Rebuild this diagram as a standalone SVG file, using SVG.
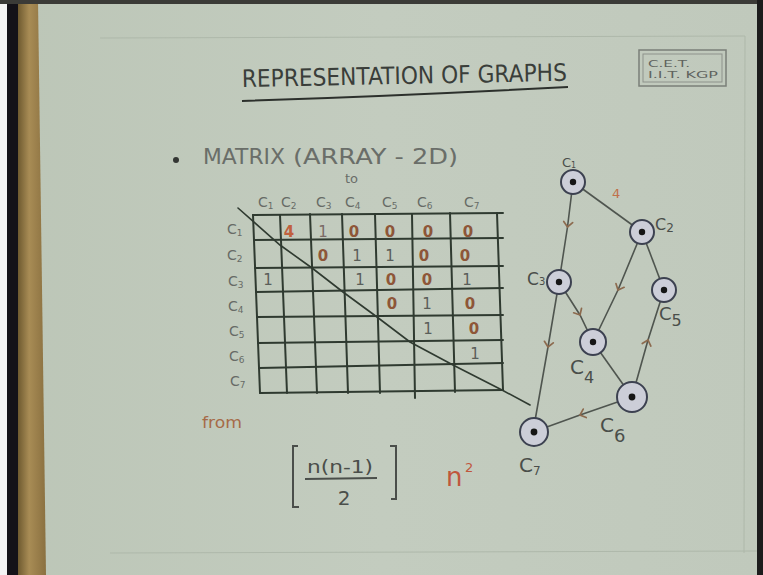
<svg xmlns="http://www.w3.org/2000/svg" width="763" height="575" viewBox="0 0 763 575">
  <defs>
    <linearGradient id="paper" x1="0" y1="0" x2="1" y2="0">
      <stop offset="0" stop-color="#bcc6b7"/>
      <stop offset="0.5" stop-color="#c3ccbf"/>
      <stop offset="1" stop-color="#c0c9bc"/>
    </linearGradient>
    <linearGradient id="wood" x1="0" y1="0" x2="1" y2="0">
      <stop offset="0" stop-color="#6e5a30"/>
      <stop offset="0.4" stop-color="#a88c55"/>
      <stop offset="1" stop-color="#8a7040"/>
    </linearGradient>
    <marker id="chev" markerUnits="userSpaceOnUse" markerWidth="14" markerHeight="14" viewBox="-7 -7 14 14" refX="0" refY="0" orient="auto">
      <path d="M-5,-4.5 L0,0 L-5,4.5" fill="none" stroke="#8c6a4e" stroke-width="1.7" stroke-linecap="round"/>
    </marker>
    <style>
      .hand { font-family: "DejaVu Sans", "Liberation Sans", sans-serif; }
      .grid { stroke: #2f3a30; stroke-width: 2; fill: none; stroke-linecap: round; }
      .hdr { font-family: "DejaVu Sans", sans-serif; font-size: 14px; fill: #676b66; }
      .sub { font-size: 9px; }
      .one { font-family: "DejaVu Sans", sans-serif; font-size: 15px; fill: #5a5e5a; text-anchor: middle; }
      .zero { font-family: "DejaVu Sans", sans-serif; font-size: 15px; font-weight: bold; fill: #8e5638; text-anchor: middle; }
      .edge { stroke: #4f554f; stroke-width: 1.6; fill: none; marker-mid: url(#chev); }
      .edgen { stroke: #4f554f; stroke-width: 1.6; fill: none; }
      .ring { fill: #ccced8; stroke: #3c4150; stroke-width: 2; }
      .dot { fill: #161616; }
      .glab { font-family: "DejaVu Sans", sans-serif; fill: #4a4e4a; }
    </style>
  </defs>

  <!-- background: photo frame -->
  <rect x="0" y="0" width="763" height="575" fill="url(#paper)"/>
  <rect x="0" y="0" width="7" height="575" fill="#f4f4f4"/>
  <rect x="7" y="0" width="12" height="575" fill="#141218"/>
  <polygon points="18,0 38,0 46,575 18,575" fill="url(#wood)"/>
  <rect x="0" y="0" width="763" height="4" fill="#3b3b37"/>
  <rect x="757" y="0" width="6" height="575" fill="#1c1c1c"/>
  <g stroke="#aeb8aa" stroke-width="1" fill="none">
    <path d="M100,38 L745,36"/>
    <path d="M745,36 L744,553"/>
    <path d="M110,553 L757,551"/>
  </g>

  <!-- title -->
  <g id="title">
    <text class="hand" x="242" y="87" font-size="24" fill="#3a3e3a" textLength="325" lengthAdjust="spacingAndGlyphs" transform="rotate(-1.1 242 87)">REPRESENTATION OF GRAPHS</text>
    <path d="M242,101 Q400,96 568,87" stroke="#2c302c" stroke-width="2" fill="none"/>
  </g>

  <!-- logo box -->
  <g id="logo">
    <rect x="639" y="50" width="87" height="36" fill="none" stroke="#7a7f78" stroke-width="1.5"/>
    <rect x="643" y="54" width="79" height="28" fill="none" stroke="#8d928b" stroke-width="1"/>
    <text class="hand" x="648" y="67" font-size="9" fill="#5f635e" textLength="42" lengthAdjust="spacingAndGlyphs">C.E.T.</text>
    <text class="hand" x="648" y="78" font-size="9" fill="#5f635e" textLength="70" lengthAdjust="spacingAndGlyphs">I.I.T. KGP</text>
  </g>

  <!-- heading -->
  <g id="heading">
    <circle cx="176" cy="160" r="3" fill="#333633"/>
    <text class="hand" x="203" y="164" font-size="22" fill="#6a6e69" textLength="82" lengthAdjust="spacingAndGlyphs">MATRIX</text>
    <text class="hand" x="293" y="164" font-size="22" fill="#6a6e69" textLength="165" lengthAdjust="spacingAndGlyphs">(ARRAY - 2D)</text>
    <text class="hand" x="345" y="183" font-size="13" fill="#6a6e69">to</text>
  </g>

  <!-- matrix -->
  <g id="matrix">
    <g class="grid">
      <path d="M253,215 L503,213"/>
      <path d="M254,240 L503,238"/>
      <path d="M255,268 L503,266"/>
      <path d="M256,292 L503,288"/>
      <path d="M257,317 L503,315"/>
      <path d="M258,343 L503,340"/>
      <path d="M259,368 L503,363"/>
      <path d="M260,393 L503,390"/>
      <path d="M253,215 L260,393"/>
      <path d="M280,215 L287,393"/>
      <path d="M310,214 L317,393"/>
      <path d="M342,214 L348,393"/>
      <path d="M375,214 L380,393"/>
      <path d="M412,214 L415,398"/>
      <path d="M450,213 L455,392"/>
      <path d="M497,213 L503,390"/>
      <path d="M238,208 L280,245 L312,268 L343,292 L377,317 L410,342 L453,365 L502,390 L530,405" stroke-width="1.6"/>
    </g>
    <!-- column headers -->
    <text class="hdr" x="258" y="207">C<tspan class="sub" dy="2">1</tspan></text>
    <text class="hdr" x="281" y="207">C<tspan class="sub" dy="2">2</tspan></text>
    <text class="hdr" x="316" y="207">C<tspan class="sub" dy="2">3</tspan></text>
    <text class="hdr" x="345" y="207">C<tspan class="sub" dy="2">4</tspan></text>
    <text class="hdr" x="382" y="207">C<tspan class="sub" dy="2">5</tspan></text>
    <text class="hdr" x="417" y="207">C<tspan class="sub" dy="2">6</tspan></text>
    <text class="hdr" x="464" y="207">C<tspan class="sub" dy="2">7</tspan></text>
    <!-- row headers -->
    <text class="hdr" x="227" y="234">C<tspan class="sub" dy="2">1</tspan></text>
    <text class="hdr" x="227" y="260">C<tspan class="sub" dy="2">2</tspan></text>
    <text class="hdr" x="228" y="286">C<tspan class="sub" dy="2">3</tspan></text>
    <text class="hdr" x="228" y="311">C<tspan class="sub" dy="2">4</tspan></text>
    <text class="hdr" x="229" y="336">C<tspan class="sub" dy="2">5</tspan></text>
    <text class="hdr" x="229" y="361">C<tspan class="sub" dy="2">6</tspan></text>
    <text class="hdr" x="230" y="386">C<tspan class="sub" dy="2">7</tspan></text>
    <!-- row C1 -->
    <text class="zero" x="289" y="237" style="fill:#c0603e">4</text>
    <text class="one" x="323" y="237" style="fill:#7a6a66">1</text>
    <text class="zero" x="354" y="237">0</text>
    <text class="zero" x="390" y="237">0</text>
    <text class="zero" x="428" y="237">0</text>
    <text class="zero" x="468" y="237">0</text>
    <!-- row C2 -->
    <text class="zero" x="323" y="261">0</text>
    <text class="one" x="357" y="261">1</text>
    <text class="one" x="390" y="261">1</text>
    <text class="zero" x="424" y="261">0</text>
    <text class="zero" x="465" y="261">0</text>
    <!-- row C3 -->
    <text class="one" x="268" y="285">1</text>
    <text class="one" x="360" y="285">1</text>
    <text class="zero" x="391" y="285">0</text>
    <text class="zero" x="427" y="285">0</text>
    <text class="one" x="467" y="285">1</text>
    <!-- row C4 -->
    <text class="zero" x="392" y="309">0</text>
    <text class="one" x="427" y="309">1</text>
    <text class="zero" x="470" y="309">0</text>
    <!-- row C5 -->
    <text class="one" x="428" y="334">1</text>
    <text class="zero" x="474" y="334">0</text>
    <!-- row C6 -->
    <text class="one" x="475" y="359">1</text>
  </g>

  <g id="from-label">
    <text class="hand" x="202" y="428" font-size="16" fill="#a66a48" textLength="40" lengthAdjust="spacingAndGlyphs">from</text>
  </g>

  <!-- formula -->
  <g id="formula">
    <path d="M298,446 L293,446 L293,507 L299,507" stroke="#4a4e4a" stroke-width="2" fill="none"/>
    <path d="M390,446 L396,446 L396,499 L391,499" stroke="#4a4e4a" stroke-width="2" fill="none"/>
    <text class="hand" x="307" y="473" font-size="17" fill="#4a4e4a" textLength="66" lengthAdjust="spacingAndGlyphs">n(n-1)</text>
    <path d="M305,479 L377,478" stroke="#4a4e4a" stroke-width="2" fill="none"/>
    <text class="hand" x="344" y="505" font-size="20" fill="#4a4e4a" text-anchor="middle">2</text>
    <text class="hand" x="446" y="486" font-size="26" fill="#c0563c">n</text>
    <text class="hand" x="465" y="472" font-size="13" fill="#c0563c">2</text>
  </g>

  <!-- graph connectors -->
  <g id="edges">
    <path class="edgen" d="M573,182 L642,232"/>
    <path class="edge" d="M573,182 L567.5,227 L559,282"/>
    <path class="edge" d="M642,232 L618,290 L593,342"/>
    <path class="edgen" d="M642,232 L664,290"/>
    <path class="edge" d="M559,282 L580,315 L593,342"/>
    <path class="edge" d="M559,282 L548,347 L533,432"/>
    <path class="edgen" d="M593,342 L632,397"/>
    <path class="edge" d="M632,397 L648,340 L664,290"/>
    <path class="edge" d="M632,397 L580,415 L533,432"/>
    <text x="612" y="198" font-family="DejaVu Sans, sans-serif" font-size="13" fill="#c0704a">4</text>
  </g>

  <!-- graph nodes -->
  <g id="node-c1">
    <circle class="ring" cx="573" cy="182" r="12"/>
    <circle class="dot" cx="573" cy="182" r="3.2"/>
    <text class="glab" x="562" y="167" font-size="13">C<tspan font-size="8" dy="1">1</tspan></text>
  </g>
  <g id="node-c2">
    <circle class="ring" cx="642" cy="232" r="12"/>
    <circle class="dot" cx="642" cy="232" r="3.2"/>
    <text class="glab" x="655" y="230" font-size="16">C<tspan font-size="12" dy="2">2</tspan></text>
  </g>
  <g id="node-c3">
    <circle class="ring" cx="559" cy="282" r="12"/>
    <circle class="dot" cx="559" cy="282" r="3.2"/>
    <text class="glab" x="527" y="285" font-size="17">C<tspan font-size="10" dy="0">3</tspan></text>
  </g>
  <g id="node-c4">
    <circle class="ring" cx="593" cy="342" r="13"/>
    <circle class="dot" cx="593" cy="342" r="3.2"/>
    <text class="glab" x="570" y="374" font-size="20">C<tspan font-size="16" dy="9">4</tspan></text>
  </g>
  <g id="node-c5">
    <circle class="ring" cx="664" cy="290" r="12"/>
    <circle class="dot" cx="664" cy="290" r="3.2"/>
    <text class="glab" x="659" y="320" font-size="18">C<tspan font-size="16" dy="6">5</tspan></text>
  </g>
  <g id="node-c6">
    <circle class="ring" cx="632" cy="397" r="15"/>
    <circle class="dot" cx="632" cy="397" r="3.4"/>
    <text class="glab" x="600" y="432" font-size="20">C<tspan font-size="18" dy="10">6</tspan></text>
  </g>
  <g id="node-c7">
    <circle class="ring" cx="534" cy="432" r="14"/>
    <circle class="dot" cx="534" cy="432" r="3.4"/>
    <text class="glab" x="519" y="472" font-size="20">C<tspan font-size="12" dy="3">7</tspan></text>
  </g>
</svg>
